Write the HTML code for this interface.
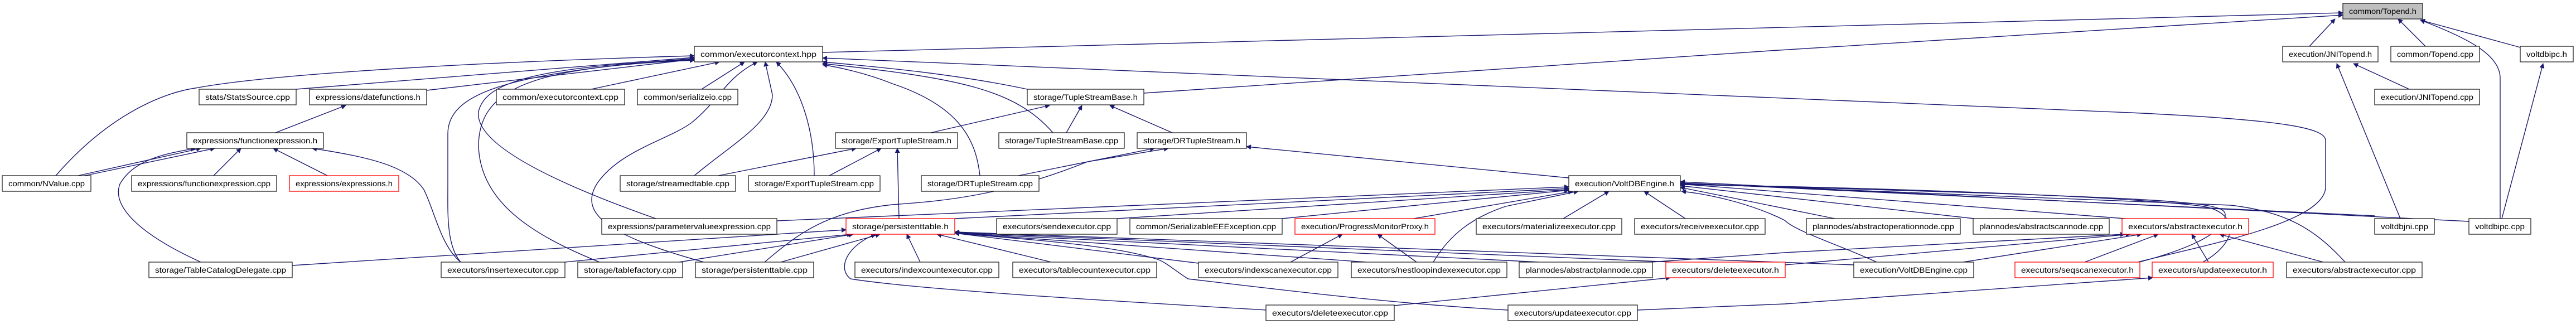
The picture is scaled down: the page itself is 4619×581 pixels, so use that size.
<!DOCTYPE html>
<html><head><meta charset="utf-8"><style>
html,body{margin:0;padding:0;background:#fff;}
svg{display:block;}
text{font-family:"Liberation Sans",sans-serif;font-size:14px;fill:#000;}
.e{fill:none;stroke:#191970;stroke-width:1.4;marker-end:url(#a);}
.n{fill:#fff;stroke:#222;stroke-width:1.3;}
.r{fill:#fff;stroke:#f00;stroke-width:1.3;}
</style></head><body>
<svg width="4619" height="581" viewBox="0 0 4619 581" xmlns="http://www.w3.org/2000/svg">
<defs><marker id="a" viewBox="0 0 10 10" refX="9" refY="5" markerWidth="9" markerHeight="9" markerUnits="userSpaceOnUse" orient="auto"><path d="M0,0 L10,5 L0,10 z" fill="#191970"/></marker></defs>
<g>
<path class="e" d="M1475,94 L4201,23"/>
<path class="e" d="M2051,167 C2600,130 3600,60 4201,27"/>
<path class="e" d="M4141,83 L4187,34"/>
<path class="e" d="M4349,83 L4300,34"/>
<path class="e" d="M4483,392 L4483,140 C4483,100 4430,70 4340,36"/>
<path class="e" d="M4519,85 L4340,36"/>
<path class="e" d="M4320,160 L4220,114"/>
<path class="e" d="M4304,392 L4190,114"/>
<path class="e" d="M4486,392 L4560,114"/>
<path class="e" d="M3833,470 C3950,440 4170,400 4170,335 L4170,252 C4170,230 4100,215 3819,202 L1475,104"/>
<path class="e" d="M100,315 C200,200 300,165 350,158 C500,130 900,110 1245,100"/>
<path class="e" d="M531,160 L1245,103"/>
<path class="e" d="M765,162 L1245,106"/>
<path class="e" d="M1060,160 L1290,111"/>
<path class="e" d="M1258,160 L1335,111"/>
<path class="e" d="M1245,315 C1310,260 1385,220 1385,170 L1372,111"/>
<path class="e" d="M1460,315 C1460,240 1440,160 1392,111"/>
<path class="e" d="M1176,392 C1000,330 850,260 858,200 C870,150 950,120 1245,107"/>
<path class="e" d="M826,470 C800,440 803,380 803,330 L803,240 C803,170 900,130 1245,105"/>
<path class="e" d="M1075,470 C950,420 860,360 858,260 C860,160 950,120 1245,108"/>
<path class="e" d="M1262,470 C1080,420 1040,380 1070,330 C1110,270 1200,250 1240,220 C1290,180 1300,140 1358,111"/>
<path class="e" d="M1842,160 C1700,130 1550,118 1475,111"/>
<path class="e" d="M1888,238 C1820,160 1720,140 1475,114"/>
<path class="e" d="M1757,315 C1750,250 1720,190 1600,150 C1550,130 1500,120 1475,116"/>
<path class="e" d="M494,238 L620,189"/>
<path class="e" d="M152,315 L385,266"/>
<path class="e" d="M140,315 L360,266"/>
<path class="e" d="M360,470 C250,420 200,370 215,330 C240,285 300,275 350,266"/>
<path class="e" d="M383,315 L432,266"/>
<path class="e" d="M587,315 L490,266"/>
<path class="e" d="M826,470 C790,440 780,380 760,340 C730,295 650,280 560,266"/>
<path class="e" d="M1612,392 L1609,266"/>
<path class="e" d="M1288,315 L1535,266"/>
<path class="e" d="M1487,315 L1580,266"/>
<path class="e" d="M1669,238 L1882,189"/>
<path class="e" d="M1912,238 L1940,189"/>
<path class="e" d="M2102,238 L1990,189"/>
<path class="e" d="M1826,315 L2070,266"/>
<path class="e" d="M1371,470 C1430,420 1480,380 1600,367 C1700,360 1800,350 1950,290 L2095,266"/>
<path class="e" d="M2813,319 L2235,263"/>
<path class="e" d="M1393,396 L2813,335"/>
<path class="e" d="M1712,392 L2813,338"/>
<path class="e" d="M2003,392 L2813,340"/>
<path class="e" d="M2299,392 L2813,341"/>
<path class="e" d="M2535,392 L2820,343"/>
<path class="e" d="M2570,470 C2600,420 2640,390 2700,370 L2830,343"/>
<path class="e" d="M2803,392 L2885,343"/>
<path class="e" d="M3022,392 L2948,343"/>
<path class="e" d="M3290,392 L3013,336"/>
<path class="e" d="M3540,392 L3013,333"/>
<path class="e" d="M3810,392 L3013,330"/>
<path class="e" d="M3365,470 C3300,440 3220,415 3200,395 C3150,370 3080,350 3015,343"/>
<path class="e" d="M4258,387 L3013,328"/>
<path class="e" d="M4427,397 L3013,326"/>
<path class="e" d="M3836,470 C3950,440 3990,410 3990,385 C3990,360 3900,355 3013,330"/>
<path class="e" d="M3950,470 C4020,430 4010,380 3950,370 C3800,350 3300,335 3013,331"/>
<path class="e" d="M4205,470 C4150,410 4100,380 4000,368 L3013,329"/>
<path class="e" d="M2314,470 L2407,420"/>
<path class="e" d="M2540,470 L2470,420"/>
<path class="e" d="M524,476 L1517,412"/>
<path class="e" d="M1013,470 L1527,420"/>
<path class="e" d="M1218,470 L1530,420"/>
<path class="e" d="M1400,470 L1578,420"/>
<path class="e" d="M1650,470 L1626,420"/>
<path class="e" d="M1885,470 L1680,420"/>
<path class="e" d="M2149,472 L1712,418"/>
<path class="e" d="M2450,470 L1712,418"/>
<path class="e" d="M2760,470 L1712,418"/>
<path class="e" d="M3000,470 L1712,417"/>
<path class="e" d="M3324,475 L1712,416"/>
<path class="e" d="M2270,556 C2000,540 1650,520 1525,500 C1500,480 1520,440 1570,420"/>
<path class="e" d="M2704,556 C2500,545 2300,520 2130,500 C2100,480 2090,470 2075,465 C2000,440 1850,430 1712,418"/>
<path class="e" d="M2500,548 L2995,498"/>
<path class="e" d="M2936,556 L3200,545 L3860,498"/>
<path class="e" d="M2960,470 L3200,453 L3810,420"/>
<path class="e" d="M3200,475 L3820,420"/>
<path class="e" d="M3520,470 L3840,420"/>
<path class="e" d="M3738,470 L3870,420"/>
<path class="e" d="M3960,470 L3930,420"/>
<path class="e" d="M4166,470 L3980,420"/>
</g>
<g>
<rect x="4201" y="6" width="143" height="28" fill="#bfbfbf" stroke="#222" stroke-width="1.3"/><text x="4212" y="25" textLength="121" lengthAdjust="spacingAndGlyphs">common/Topend.h</text>
<rect class="n" x="1245" y="83" width="230" height="28"/><text x="1256" y="102" textLength="208" lengthAdjust="spacingAndGlyphs">common/executorcontext.hpp</text>
<rect class="n" x="4093" y="83" width="171" height="28"/><text x="4104" y="102" textLength="149" lengthAdjust="spacingAndGlyphs">execution/JNITopend.h</text>
<rect class="n" x="4287" y="83" width="159" height="28"/><text x="4298" y="102" textLength="137" lengthAdjust="spacingAndGlyphs">common/Topend.cpp</text>
<rect class="n" x="4519" y="83" width="95" height="28"/><text x="4530" y="102" textLength="73" lengthAdjust="spacingAndGlyphs">voltdbipc.h</text>
<rect class="n" x="357" y="160" width="174" height="28"/><text x="368" y="179" textLength="152" lengthAdjust="spacingAndGlyphs">stats/StatsSource.cpp</text>
<rect class="n" x="555" y="160" width="210" height="28"/><text x="566" y="179" textLength="188" lengthAdjust="spacingAndGlyphs">expressions/datefunctions.h</text>
<rect class="n" x="890" y="160" width="230" height="28"/><text x="901" y="179" textLength="208" lengthAdjust="spacingAndGlyphs">common/executorcontext.cpp</text>
<rect class="n" x="1143" y="160" width="180" height="28"/><text x="1154" y="179" textLength="158" lengthAdjust="spacingAndGlyphs">common/serializeio.cpp</text>
<rect class="n" x="1842" y="160" width="209" height="28"/><text x="1853" y="179" textLength="187" lengthAdjust="spacingAndGlyphs">storage/TupleStreamBase.h</text>
<rect class="n" x="4258" y="160" width="188" height="28"/><text x="4269" y="179" textLength="166" lengthAdjust="spacingAndGlyphs">execution/JNITopend.cpp</text>
<rect class="n" x="335" y="238" width="245" height="28"/><text x="346" y="257" textLength="223" lengthAdjust="spacingAndGlyphs">expressions/functionexpression.h</text>
<rect class="n" x="1498" y="238" width="219" height="28"/><text x="1509" y="257" textLength="197" lengthAdjust="spacingAndGlyphs">storage/ExportTupleStream.h</text>
<rect class="n" x="1791" y="238" width="225" height="28"/><text x="1802" y="257" textLength="203" lengthAdjust="spacingAndGlyphs">storage/TupleStreamBase.cpp</text>
<rect class="n" x="2039" y="238" width="196" height="28"/><text x="2050" y="257" textLength="174" lengthAdjust="spacingAndGlyphs">storage/DRTupleStream.h</text>
<rect class="n" x="4" y="315" width="159" height="28"/><text x="15" y="334" textLength="137" lengthAdjust="spacingAndGlyphs">common/NValue.cpp</text>
<rect class="n" x="236" y="315" width="260" height="28"/><text x="247" y="334" textLength="238" lengthAdjust="spacingAndGlyphs">expressions/functionexpression.cpp</text>
<rect class="r" x="519" y="315" width="196" height="28"/><text x="530" y="334" textLength="174" lengthAdjust="spacingAndGlyphs">expressions/expressions.h</text>
<rect class="n" x="1112" y="315" width="207" height="28"/><text x="1123" y="334" textLength="185" lengthAdjust="spacingAndGlyphs">storage/streamedtable.cpp</text>
<rect class="n" x="1342" y="315" width="236" height="28"/><text x="1353" y="334" textLength="214" lengthAdjust="spacingAndGlyphs">storage/ExportTupleStream.cpp</text>
<rect class="n" x="1652" y="315" width="211" height="28"/><text x="1663" y="334" textLength="189" lengthAdjust="spacingAndGlyphs">storage/DRTupleStream.cpp</text>
<rect class="n" x="2813" y="315" width="200" height="28"/><text x="2824" y="334" textLength="178" lengthAdjust="spacingAndGlyphs">execution/VoltDBEngine.h</text>
<rect class="n" x="4258" y="392" width="107" height="28"/><text x="4269" y="411" textLength="85" lengthAdjust="spacingAndGlyphs">voltdbjni.cpp</text>
<rect class="n" x="4427" y="392" width="111" height="28"/><text x="4438" y="411" textLength="89" lengthAdjust="spacingAndGlyphs">voltdbipc.cpp</text>
<rect class="n" x="1079" y="392" width="314" height="28"/><text x="1090" y="411" textLength="292" lengthAdjust="spacingAndGlyphs">expressions/parametervalueexpression.cpp</text>
<rect class="r" x="1517" y="392" width="195" height="28"/><text x="1528" y="411" textLength="173" lengthAdjust="spacingAndGlyphs">storage/persistenttable.h</text>
<rect class="n" x="1787" y="392" width="216" height="28"/><text x="1798" y="411" textLength="194" lengthAdjust="spacingAndGlyphs">executors/sendexecutor.cpp</text>
<rect class="n" x="2026" y="392" width="273" height="28"/><text x="2037" y="411" textLength="251" lengthAdjust="spacingAndGlyphs">common/SerializableEEException.cpp</text>
<rect class="r" x="2322" y="392" width="251" height="28"/><text x="2333" y="411" textLength="229" lengthAdjust="spacingAndGlyphs">execution/ProgressMonitorProxy.h</text>
<rect class="n" x="2647" y="392" width="261" height="28"/><text x="2658" y="411" textLength="239" lengthAdjust="spacingAndGlyphs">executors/materializeexecutor.cpp</text>
<rect class="n" x="2931" y="392" width="234" height="28"/><text x="2942" y="411" textLength="212" lengthAdjust="spacingAndGlyphs">executors/receiveexecutor.cpp</text>
<rect class="n" x="3239" y="392" width="276" height="28"/><text x="3250" y="411" textLength="254" lengthAdjust="spacingAndGlyphs">plannodes/abstractoperationnode.cpp</text>
<rect class="n" x="3538" y="392" width="244" height="28"/><text x="3549" y="411" textLength="222" lengthAdjust="spacingAndGlyphs">plannodes/abstractscannode.cpp</text>
<rect class="r" x="3805" y="392" width="227" height="28"/><text x="3816" y="411" textLength="205" lengthAdjust="spacingAndGlyphs">executors/abstractexecutor.h</text>
<rect class="n" x="267" y="470" width="257" height="28"/><text x="278" y="489" textLength="235" lengthAdjust="spacingAndGlyphs">storage/TableCatalogDelegate.cpp</text>
<rect class="n" x="791" y="470" width="222" height="28"/><text x="802" y="489" textLength="200" lengthAdjust="spacingAndGlyphs">executors/insertexecutor.cpp</text>
<rect class="n" x="1036" y="470" width="188" height="28"/><text x="1047" y="489" textLength="166" lengthAdjust="spacingAndGlyphs">storage/tablefactory.cpp</text>
<rect class="n" x="1247" y="470" width="212" height="28"/><text x="1258" y="489" textLength="190" lengthAdjust="spacingAndGlyphs">storage/persistenttable.cpp</text>
<rect class="n" x="1533" y="470" width="258" height="28"/><text x="1544" y="489" textLength="236" lengthAdjust="spacingAndGlyphs">executors/indexcountexecutor.cpp</text>
<rect class="n" x="1816" y="470" width="258" height="28"/><text x="1827" y="489" textLength="236" lengthAdjust="spacingAndGlyphs">executors/tablecountexecutor.cpp</text>
<rect class="n" x="2149" y="470" width="250" height="28"/><text x="2160" y="489" textLength="228" lengthAdjust="spacingAndGlyphs">executors/indexscanexecutor.cpp</text>
<rect class="n" x="2423" y="470" width="279" height="28"/><text x="2434" y="489" textLength="257" lengthAdjust="spacingAndGlyphs">executors/nestloopindexexecutor.cpp</text>
<rect class="n" x="2724" y="470" width="239" height="28"/><text x="2735" y="489" textLength="217" lengthAdjust="spacingAndGlyphs">plannodes/abstractplannode.cpp</text>
<rect class="r" x="2987" y="470" width="214" height="28"/><text x="2998" y="489" textLength="192" lengthAdjust="spacingAndGlyphs">executors/deleteexecutor.h</text>
<rect class="n" x="3324" y="470" width="215" height="28"/><text x="3335" y="489" textLength="193" lengthAdjust="spacingAndGlyphs">execution/VoltDBEngine.cpp</text>
<rect class="r" x="3613" y="470" width="224" height="28"/><text x="3624" y="489" textLength="202" lengthAdjust="spacingAndGlyphs">executors/seqscanexecutor.h</text>
<rect class="r" x="3859" y="470" width="217" height="28"/><text x="3870" y="489" textLength="195" lengthAdjust="spacingAndGlyphs">executors/updateexecutor.h</text>
<rect class="n" x="4100" y="470" width="243" height="28"/><text x="4111" y="489" textLength="221" lengthAdjust="spacingAndGlyphs">executors/abstractexecutor.cpp</text>
<rect class="n" x="2270" y="547" width="230" height="28"/><text x="2281" y="566" textLength="208" lengthAdjust="spacingAndGlyphs">executors/deleteexecutor.cpp</text>
<rect class="n" x="2704" y="547" width="232" height="28"/><text x="2715" y="566" textLength="210" lengthAdjust="spacingAndGlyphs">executors/updateexecutor.cpp</text>
</g>
</svg>
</body></html>
